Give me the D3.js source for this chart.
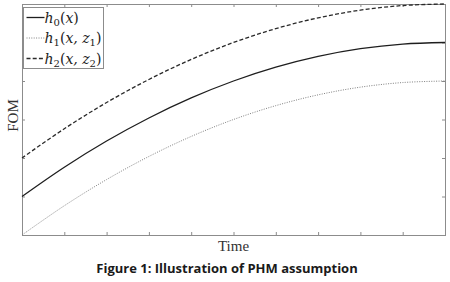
<!DOCTYPE html>
<html>
<head>
<meta charset="utf-8">
<script src="https://cdn.jsdelivr.net/npm/d3@7"></script>
<style>
  body { margin: 0; background: #fff; }
  svg { display: block; }
  .frame { fill: none; stroke: #8c8c8c; stroke-width: 1; }
  .tick line { stroke: #8c8c8c; }
  .mathlabel { font-family: "DejaVu Serif", "Liberation Serif", serif; font-size: 14px; fill: #222; }
</style>
</head>
<body>
<script>
const width = 450
    , height = 282;
const margin = {top: 4, right: 5, bottom: 47, left: 22};

// time positions (at the axis ticks) and FOM readings for each curve
const timeTicks = [0, 1, 2, 3, 4, 5, 6, 7, 8, 9, 10];
const h0 = [1.00, 1.76, 2.44, 3.04, 3.56, 4.00, 4.36, 4.64, 4.84, 4.96, 5.00];
const h1 = [0.00, 0.76, 1.44, 2.04, 2.56, 3.00, 3.36, 3.64, 3.84, 3.96, 4.00];
const h2 = [2.00, 2.76, 3.44, 4.04, 4.56, 5.00, 5.36, 5.64, 5.84, 5.96, 6.00];
const fomTicks = [0, 1, 2, 3, 4, 5, 6];

const series = [
    {name: "h0", sub: "0", args: "x", values: h0, stroke: "#1e1e1e", dash: null, sw: 1.3},
    {name: "h1", sub: "1", args: "x, z", argSub: "1", values: h1, stroke: "#808080", dash: "1,1.4", sw: 1},
    {name: "h2", sub: "2", args: "x, z", argSub: "2", values: h2, stroke: "#2a2a2a", dash: "4,2.2", sw: 1.3}
];

const plotw = width - margin.left - margin.right
    , ploth = height - margin.top - margin.bottom;

var x = d3.scaleLinear().domain([0, 10]).range([0, plotw]);
var y = d3.scaleLinear().domain([0, 6]).range([ploth, 0]);

var svg = d3.select("body").append("svg")
    .attr("width", width)
    .attr("height", height)
    .append("g")
    .attr("transform", "translate(" + margin.left + "," + margin.top + ")");

// inward ticks, no labels, on all four sides
svg.append("g").attr("class", "x axis")
    .attr("transform", "translate(0," + ploth + ")")
    .call(d3.axisTop(x).tickValues(timeTicks).tickSize(3).tickFormat(""))
    .call(g => g.select(".domain").remove());
svg.append("g").attr("class", "x axis top")
    .call(d3.axisBottom(x).tickValues(timeTicks).tickSize(3).tickFormat(""))
    .call(g => g.select(".domain").remove());
svg.append("g").attr("class", "y axis")
    .call(d3.axisRight(y).tickValues(fomTicks).tickSize(3).tickFormat(""))
    .call(g => g.select(".domain").remove());
svg.append("g").attr("class", "y axis right")
    .attr("transform", "translate(" + plotw + ",0)")
    .call(d3.axisLeft(y).tickValues(fomTicks).tickSize(3).tickFormat(""))
    .call(g => g.select(".domain").remove());

svg.append("rect")
    .attr("class", "frame")
    .attr("x", 0.5).attr("y", 0.5)
    .attr("width", plotw).attr("height", ploth);

var line = d3.line()
    .x(function(d, i) { return x(timeTicks[i]); })
    .y(function(d) { return y(d); })
    .curve(d3.curveCatmullRom);

svg.selectAll(".curve")
    .data(series)
    .enter()
    .append("path")
    .attr("class", "curve")
    .attr("fill", "none")
    .attr("stroke", d => d.stroke)
    .attr("stroke-width", d => d.sw)
    .attr("stroke-dasharray", d => d.dash)
    .attr("d", d => line(d.values));

// axis titles
svg.append("text")
    .attr("transform", "translate(" + (plotw / 2) + "," + (ploth + 16) + ")")
    .style("text-anchor", "middle")
    .style("font-family", "'Liberation Serif', 'DejaVu Serif', serif")
    .style("font-size", "15px")
    .style("fill", "#333")
    .text("Time");

svg.append("text")
    .attr("transform", "rotate(-90)")
    .attr("x", -(ploth / 2) + 4)
    .attr("y", -4)
    .style("text-anchor", "middle")
    .style("font-family", "'Liberation Serif', 'DejaVu Serif', serif")
    .style("font-size", "15px")
    .style("fill", "#333")
    .text("FOM");

// legend
var legend = svg.append("g").attr("transform", "translate(1.5,3.5)");
legend.append("rect")
    .attr("width", 80).attr("height", 61)
    .attr("fill", "#fff")
    .attr("stroke", "#8c8c8c");

var items = legend.selectAll(".item")
    .data(series)
    .enter()
    .append("g")
    .attr("class", "item")
    .attr("transform", (d, i) => "translate(0," + (10 + i * 20.5) + ")");

items.append("line")
    .attr("x1", 3).attr("x2", 21)
    .attr("stroke", d => d.stroke)
    .attr("stroke-width", d => d.sw)
    .attr("stroke-dasharray", d => d.dash);

var lbl = items.append("text")
    .attr("class", "mathlabel")
    .attr("x", 21)
    .attr("y", 5);
lbl.append("tspan").style("font-style", "italic").text("h");
lbl.append("tspan").attr("dy", 3).style("font-size", "10px").text(d => d.sub);
lbl.append("tspan").attr("dy", -3).text("(");
lbl.append("tspan").style("font-style", "italic").text(d => d.args);
lbl.filter(d => d.argSub).append("tspan").attr("dy", 3).style("font-size", "10px").text(d => d.argSub);
lbl.filter(d => d.argSub).append("tspan").attr("dy", -3).text(")");
lbl.filter(d => !d.argSub).append("tspan").text(")");

// caption
d3.select("svg").append("text")
    .attr("x", 227)
    .attr("y", 273)
    .style("text-anchor", "middle")
    .style("font-family", "'Open Sans', 'DejaVu Sans', sans-serif")
    .style("font-weight", "bold")
    .style("font-size", "13px")
    .style("fill", "#1a1a1a")
    .text("Figure 1: Illustration of PHM assumption");
</script>
</body>
</html>
